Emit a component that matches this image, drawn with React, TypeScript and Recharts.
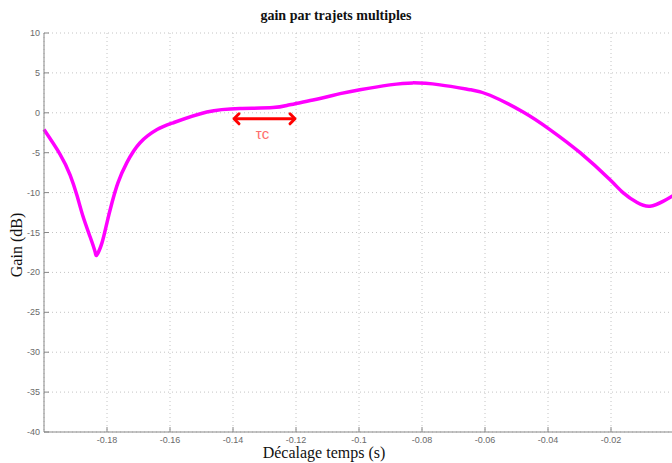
import React from 'react';
import {
  LineChart,
  Line,
  XAxis,
  YAxis,
  CartesianGrid,
  ReferenceLine,
} from 'recharts';

// time shift (s) and gain (dB)
const delays = [
  -0.2, -0.1949, -0.1917, -0.1895, -0.1876, -0.1854, -0.1838, -0.1832,
  -0.1816, -0.18, -0.1784, -0.1765, -0.1737, -0.1695, -0.1641, -0.159,
  -0.1483, -0.1378, -0.1273, -0.122, -0.1146, -0.106, -0.0997, -0.0902,
  -0.0829, -0.0743, -0.0648, -0.0584, -0.0479, -0.0394, -0.0298, -0.0203,
  -0.0162, -0.0117, -0.0076, -0.0035, 0,
];
const gains = [
  -2.1, -5.2, -7.8, -10.4, -13, -15.5, -17.4, -17.8,
  -16.3, -13.75, -11.25, -8.75, -6.25, -3.75, -2.1, -1.25,
  0.1, 0.55, 0.65, 1.0, 1.6, 2.4, 2.9, 3.5,
  3.75, 3.5, 2.9, 2.2, 0.1, -2.1, -5, -8.4,
  -10, -11.25, -11.7, -11.1, -10.3,
];

const xTicks = [-0.2, -0.18, -0.16, -0.14, -0.12, -0.1, -0.08, -0.06, -0.04, -0.02, 0];
const yTicks = [10, 5, 0, -5, -10, -15, -20, -25, -30, -35, -40];

// coherence time marker
const tauStart = -0.14;
const tauEnd = -0.12;
const tauLevel = -0.75;

const data = delays.map((t, i) => ({ t, gain: gains[i] }));

const TICK_MARGIN = 4;
const axisColor = '#888';
const labelColor = '#6a6a6a';

const XTick = (props: any) => {
  const { x, y, payload } = props;
  if (payload.value === -0.2) return null;
  const axisY = y - TICK_MARGIN;
  return (
    <g>
      <line x1={x} x2={x} y1={axisY} y2={axisY - 5} stroke={axisColor} />
      {payload.value !== 0 && (
        <text x={x} y={y} dy={7} textAnchor="middle" fill={labelColor} fontSize={9} fontFamily="Liberation Sans, Arial, sans-serif">
          {String(payload.value)}
        </text>
      )}
    </g>
  );
};

const YTick = (props: any) => {
  const { x, y, payload } = props;
  const axisX = x + TICK_MARGIN;
  return (
    <g>
      <line x1={axisX} x2={axisX + 5} y1={y} y2={y} stroke={axisColor} />
      <text x={x} y={y} dy={3} textAnchor="end" fill={labelColor} fontSize={9} fontFamily="Liberation Sans, Arial, sans-serif">
        {String(payload.value)}
      </text>
    </g>
  );
};

const TauArrow = (props: any) => {
  const { x1, x2, y1 } = props;
  const h = 5;
  const mid = (x1 + x2) / 2;
  return (
    <g>
      <line x1={x1 + 1} x2={x2 - 1} y1={y1} y2={y1} stroke="#ff0000" strokeWidth={3} />
      <polyline
        points={`${x1 + h + 1},${y1 - h} ${x1 + 1},${y1} ${x1 + h + 1},${y1 + h}`}
        fill="none"
        stroke="#ff0000"
        strokeWidth={3}
        strokeLinejoin="round"
        strokeLinecap="round"
      />
      <polyline
        points={`${x2 - h - 1},${y1 - h} ${x2 - 1},${y1} ${x2 - h - 1},${y1 + h}`}
        fill="none"
        stroke="#ff0000"
        strokeWidth={3}
        strokeLinejoin="round"
        strokeLinecap="round"
      />
      <text x={mid - 2} y={y1 + 20} textAnchor="middle" fill="#ff6e6e" fontSize={15} fontFamily="Liberation Sans, Arial, sans-serif">
        τc
      </text>
    </g>
  );
};

export default function App() {
  return (
    <div style={{ position: 'absolute', left: 0, top: 0, width: 672, height: 463, overflow: 'hidden', background: '#fff' }}>
      <LineChart
        width={680}
        height={463}
        data={data}
        margin={{ top: 33, right: 6, bottom: 0, left: 0 }}
      >
        <CartesianGrid stroke="#c4c4c4" strokeDasharray="1 3" />
        <XAxis
          dataKey="t"
          type="number"
          domain={[-0.2, 0]}
          ticks={xTicks}
          height={31}
          stroke={axisColor}
          tickLine={false}
          tickSize={0}
          tickMargin={TICK_MARGIN}
          tick={<XTick />}
          interval={0}
        />
        <YAxis
          type="number"
          domain={[-40, 10]}
          ticks={yTicks}
          width={44}
          stroke={axisColor}
          tickLine={false}
          tickSize={0}
          tickMargin={TICK_MARGIN}
          tick={<YTick />}
          interval={0}
        />
        <Line
          type="natural"
          dataKey="gain"
          stroke="#ff00ff"
          strokeWidth={3.5}
          dot={false}
          isAnimationActive={false}
        />
        <ReferenceLine
          segment={[
            { x: tauStart, y: tauLevel },
            { x: tauEnd, y: tauLevel },
          ]}
          shape={<TauArrow />}
        />
      </LineChart>
      <div style={{ position: 'absolute', left: 236, width: 200, top: 8, textAlign: 'center', fontFamily: 'Liberation Serif, serif', fontSize: 14, fontWeight: 'bold', color: '#111' }}>
        gain par trajets multiples
      </div>
      <div style={{ position: 'absolute', left: 224, width: 200, top: 444, textAlign: 'center', fontFamily: 'Liberation Serif, serif', fontSize: 16, lineHeight: '18px', color: '#111' }}>
        Décalage temps (s)
      </div>
      <div style={{ position: 'absolute', left: 17, top: 246, width: 0, height: 0 }}>
        <div style={{ position: 'absolute', left: -50, top: -10, width: 100, textAlign: 'center', transform: 'rotate(-90deg)', fontFamily: 'Liberation Serif, serif', fontSize: 16, color: '#111', whiteSpace: 'nowrap' }}>
          Gain (dB)
        </div>
      </div>
    </div>
  );
}
